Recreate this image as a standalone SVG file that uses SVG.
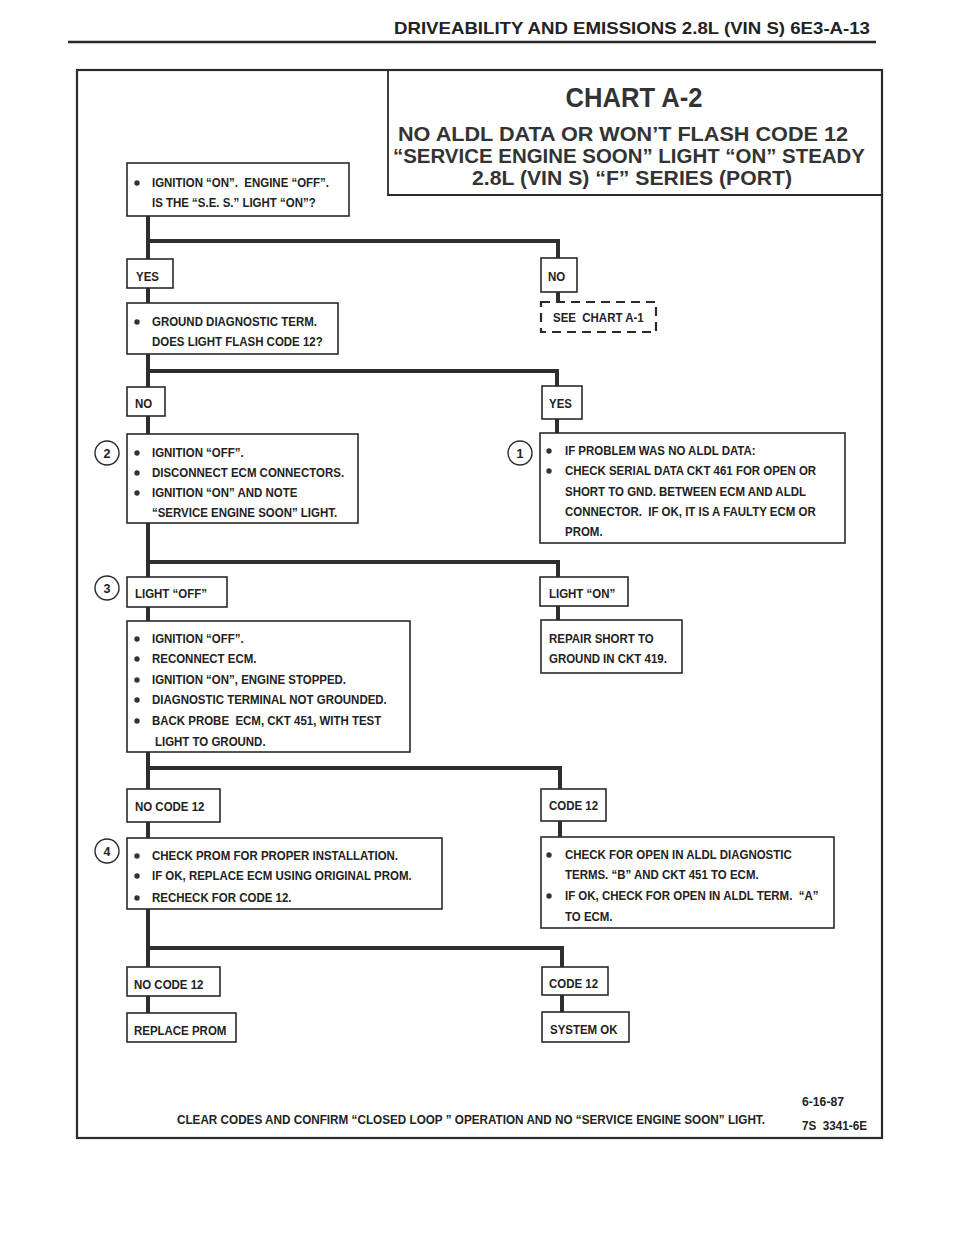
<svg xmlns="http://www.w3.org/2000/svg" width="960" height="1242" viewBox="0 0 960 1242">
<style>
.bg{fill:#fff}
.box{fill:#fff;stroke:#2a2a2a;stroke-width:1.6}
.dash{fill:#fff;stroke:#2a2a2a;stroke-width:2.2;stroke-dasharray:9 6}
.frame{fill:none;stroke:#2a2a2a;stroke-width:2.2}
.conn{fill:none;stroke:#2e2e2e;stroke-width:4;stroke-linejoin:miter}
.t{font-family:"Liberation Sans",Arial,sans-serif;font-weight:bold;font-size:13.5px;fill:#222}
.ft{font-family:"Liberation Sans",Arial,sans-serif;font-weight:bold;font-size:12.5px;fill:#222}
.hd{font-family:"Liberation Sans",Arial,sans-serif;font-weight:bold;font-size:17px;fill:#222}
.ti{font-family:"Liberation Sans",Arial,sans-serif;font-weight:bold;fill:#333;text-anchor:middle}
.num{font-family:"Liberation Sans",Arial,sans-serif;font-weight:bold;font-size:12.5px;fill:#222;text-anchor:middle}
.circ{fill:#fff;stroke:#2a2a2a;stroke-width:1.4}
.bul{fill:#333}
</style>
<rect class="bg" x="0" y="0" width="960" height="1242"/>

<g id="header">
<text class="hd" x="870" y="34" text-anchor="end" textLength="476" lengthAdjust="spacingAndGlyphs">DRIVEABILITY AND EMISSIONS 2.8L (VIN S) 6E3-A-13</text>
<line x1="68" y1="42" x2="876" y2="42" stroke="#2a2a2a" stroke-width="2.5"/>
</g>

<g id="frame">
<rect class="frame" x="77" y="70" width="805" height="1068"/>
</g>

<g id="title">
<path d="M388,70 V195 H882" fill="none" stroke="#2a2a2a" stroke-width="1.8"/>
<text class="ti" x="634" y="107" font-size="28" textLength="137" lengthAdjust="spacingAndGlyphs">CHART A-2</text>
<text class="ti" x="623" y="141" font-size="20" textLength="450" lengthAdjust="spacingAndGlyphs">NO ALDL DATA OR WON’T FLASH CODE 12</text>
<text class="ti" x="629" y="163" font-size="20" textLength="472" lengthAdjust="spacingAndGlyphs">“SERVICE ENGINE SOON” LIGHT “ON” STEADY</text>
<text class="ti" x="632" y="185" font-size="20" textLength="320" lengthAdjust="spacingAndGlyphs">2.8L (VIN S) “F” SERIES (PORT)</text>
</g>

<g id="connectors">
<path class="conn" d="M148,216 V259 M148,241 H558 V258"/>
<path class="conn" d="M148,288 V303"/>
<path class="conn" d="M558,292 V302"/>
<path class="conn" d="M148,354 V387 M148,371 H557 V386"/>
<path class="conn" d="M148,416 V434"/>
<path class="conn" d="M557,419 V433"/>
<path class="conn" d="M148,523 V577 M148,562 H558 V577"/>
<path class="conn" d="M148,607 V621"/>
<path class="conn" d="M558,606 V620"/>
<path class="conn" d="M148,752 V789 M148,768 H560 V789"/>
<path class="conn" d="M148,822 V838"/>
<path class="conn" d="M560,821 V837"/>
<path class="conn" d="M148,909 V967 M148,948 H562 V967"/>
<path class="conn" d="M148,996 V1013"/>
<path class="conn" d="M562,995 V1012"/>
</g>

<g id="n-start">
<rect class="box" x="127" y="163" width="222" height="53"/>
<circle class="bul" cx="137" cy="183" r="2.7"/>
<g transform="scale(0.85,1)">
<text class="t" x="178.82" y="187">IGNITION “ON”.&#160; ENGINE “OFF”.</text>
<text class="t" x="178.82" y="207">IS THE “S.E. S.” LIGHT “ON”?</text>
</g>
</g>

<g id="n-yes1">
<rect class="box" x="127" y="259" width="46" height="29"/>
<text class="t" x="160" y="281" transform="scale(0.85,1)">YES</text>
</g>

<g id="n-no1">
<rect class="box" x="541" y="258" width="36" height="34"/>
<text class="t" x="644.71" y="281" transform="scale(0.85,1)">NO</text>
</g>

<g id="n-seeA1">
<rect class="dash" x="541" y="302" width="115" height="30"/>
<text class="t" x="650.59" y="322" transform="scale(0.85,1)">SEE&#160; CHART A-1</text>
</g>

<g id="n-ground">
<rect class="box" x="127" y="303" width="211" height="51"/>
<circle class="bul" cx="137" cy="322" r="2.7"/>
<g transform="scale(0.85,1)">
<text class="t" x="178.82" y="326">GROUND DIAGNOSTIC TERM.</text>
<text class="t" x="178.82" y="346">DOES LIGHT FLASH CODE 12?</text>
</g>
</g>

<g id="n-no2">
<rect class="box" x="127" y="387" width="38" height="29"/>
<text class="t" x="158.82" y="408" transform="scale(0.85,1)">NO</text>
</g>

<g id="n-yes2">
<rect class="box" x="542" y="386" width="40" height="33"/>
<text class="t" x="645.88" y="408" transform="scale(0.85,1)">YES</text>
</g>

<g id="n-step2">
<circle class="circ" cx="107" cy="453" r="12"/>
<text class="num" x="107" y="457.5">2</text>
<rect class="box" x="127" y="434" width="231" height="89"/>
<circle class="bul" cx="137" cy="453" r="2.7"/>
<circle class="bul" cx="137" cy="473" r="2.7"/>
<circle class="bul" cx="137" cy="493" r="2.7"/>
<g transform="scale(0.85,1)">
<text class="t" x="178.82" y="457">IGNITION “OFF”.</text>
<text class="t" x="178.82" y="477">DISCONNECT ECM CONNECTORS.</text>
<text class="t" x="178.82" y="497">IGNITION “ON” AND NOTE</text>
<text class="t" x="178.82" y="517">“SERVICE ENGINE SOON” LIGHT.</text>
</g>
</g>

<g id="n-step1">
<circle class="circ" cx="520" cy="453" r="12"/>
<text class="num" x="520" y="457.5">1</text>
<rect class="box" x="540" y="433" width="305" height="110"/>
<circle class="bul" cx="549" cy="451" r="2.7"/>
<circle class="bul" cx="549" cy="471" r="2.7"/>
<g transform="scale(0.85,1)">
<text class="t" x="664.71" y="455">IF PROBLEM WAS NO ALDL DATA:</text>
<text class="t" x="664.71" y="475">CHECK SERIAL DATA CKT 461 FOR OPEN OR</text>
<text class="t" x="664.71" y="496">SHORT TO GND. BETWEEN ECM AND ALDL</text>
<text class="t" x="664.71" y="516">CONNECTOR.&#160; IF OK, IT IS A FAULTY ECM OR</text>
<text class="t" x="664.71" y="536">PROM.</text>
</g>
</g>

<g id="n-lightoff">
<circle class="circ" cx="107" cy="588" r="12"/>
<text class="num" x="107" y="592.5">3</text>
<rect class="box" x="127" y="577" width="100" height="30"/>
<text class="t" x="158.82" y="598" transform="scale(0.85,1)">LIGHT “OFF”</text>
</g>

<g id="n-lighton">
<rect class="box" x="540" y="577" width="88" height="29"/>
<text class="t" x="645.88" y="598" transform="scale(0.85,1)">LIGHT “ON”</text>
</g>

<g id="n-step3">
<rect class="box" x="127" y="621" width="283" height="131"/>
<circle class="bul" cx="137" cy="639" r="2.7"/>
<circle class="bul" cx="137" cy="659" r="2.7"/>
<circle class="bul" cx="137" cy="680" r="2.7"/>
<circle class="bul" cx="137" cy="700" r="2.7"/>
<circle class="bul" cx="137" cy="721" r="2.7"/>
<g transform="scale(0.85,1)">
<text class="t" x="178.82" y="643">IGNITION “OFF”.</text>
<text class="t" x="178.82" y="663">RECONNECT ECM.</text>
<text class="t" x="178.82" y="684">IGNITION “ON”, ENGINE STOPPED.</text>
<text class="t" x="178.82" y="704">DIAGNOSTIC TERMINAL NOT GROUNDED.</text>
<text class="t" x="178.82" y="725">BACK PROBE&#160; ECM, CKT 451, WITH TEST</text>
<text class="t" x="182.35" y="746">LIGHT TO GROUND.</text>
</g>
</g>

<g id="n-repair">
<rect class="box" x="541" y="620" width="141" height="53"/>
<g transform="scale(0.85,1)">
<text class="t" x="645.88" y="643">REPAIR SHORT TO</text>
<text class="t" x="645.88" y="663">GROUND IN CKT 419.</text>
</g>
</g>

<g id="n-nocode1">
<rect class="box" x="127" y="789" width="93" height="33"/>
<text class="t" x="158.82" y="811" transform="scale(0.85,1)">NO CODE 12</text>
</g>

<g id="n-code1">
<rect class="box" x="541" y="789" width="65" height="32"/>
<text class="t" x="645.88" y="810" transform="scale(0.85,1)">CODE 12</text>
</g>

<g id="n-step4">
<circle class="circ" cx="107" cy="851" r="12"/>
<text class="num" x="107" y="855.5">4</text>
<rect class="box" x="127" y="838" width="315" height="71"/>
<circle class="bul" cx="137" cy="856" r="2.7"/>
<circle class="bul" cx="137" cy="876" r="2.7"/>
<circle class="bul" cx="137" cy="898" r="2.7"/>
<g transform="scale(0.85,1)">
<text class="t" x="178.82" y="860">CHECK PROM FOR PROPER INSTALLATION.</text>
<text class="t" x="178.82" y="880">IF OK, REPLACE ECM USING ORIGINAL PROM.</text>
<text class="t" x="178.82" y="902">RECHECK FOR CODE 12.</text>
</g>
</g>

<g id="n-checkaldl">
<rect class="box" x="541" y="837" width="293" height="91"/>
<circle class="bul" cx="549" cy="855" r="2.7"/>
<circle class="bul" cx="549" cy="896" r="2.7"/>
<g transform="scale(0.85,1)">
<text class="t" x="664.71" y="859">CHECK FOR OPEN IN ALDL DIAGNOSTIC</text>
<text class="t" x="664.71" y="879">TERMS. “B” AND CKT 451 TO ECM.</text>
<text class="t" x="664.71" y="900">IF OK, CHECK FOR OPEN IN ALDL TERM.&#160; “A”</text>
<text class="t" x="664.71" y="921">TO ECM.</text>
</g>
</g>

<g id="n-nocode2">
<rect class="box" x="127" y="967" width="93" height="29"/>
<text class="t" x="157.65" y="989" transform="scale(0.85,1)">NO CODE 12</text>
</g>

<g id="n-replace">
<rect class="box" x="127" y="1013" width="109" height="29"/>
<text class="t" x="157.65" y="1035" transform="scale(0.85,1)">REPLACE PROM</text>
</g>

<g id="n-code2">
<rect class="box" x="542" y="967" width="66" height="28"/>
<text class="t" x="645.88" y="988" transform="scale(0.85,1)">CODE 12</text>
</g>

<g id="n-sysok">
<rect class="box" x="542" y="1012" width="87" height="30"/>
<text class="t" x="647.06" y="1034" transform="scale(0.85,1)">SYSTEM OK</text>
</g>

<g id="footer">
<g transform="scale(0.8,1)">
<text class="t" x="221.25" y="1124" textLength="735" lengthAdjust="spacingAndGlyphs">CLEAR CODES AND CONFIRM “CLOSED LOOP ” OPERATION AND NO “SERVICE ENGINE SOON” LIGHT.</text>
</g>
<text class="ft" x="802" y="1106" textLength="42" lengthAdjust="spacingAndGlyphs">6-16-87</text>
<text class="ft" x="802" y="1130" textLength="65" lengthAdjust="spacingAndGlyphs">7S&#160; 3341-6E</text>
</g>
</svg>
